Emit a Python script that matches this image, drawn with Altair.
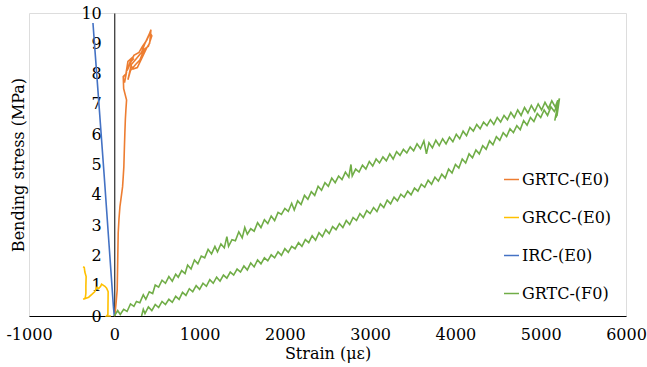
import altair as alt
import pandas as pd

# ---------------- data ----------------
series_names = ["GRTC-(E0)", "GRCC-(E0)", "IRC-(E0)", "GRTC-(F0)"]
series_colors = ["#ED7D31", "#FFC000", "#4472C4", "#70AD47"]

grtc_e0_strain = [0, 7, 20, 34, 40, 46, 55, 66, 80, 97, 105, 112, 118, 124, 130, 136, 144,
                  110, 105, 140, 120, 160, 200, 150, 230, 290, 330, 380, 420, 440, 400, 350,
                  300, 250, 190, 160, 200, 260, 320, 360, 410, 430, 415, 380, 330, 270, 220,
                  180, 230]
grtc_e0_stress = [0.0, 0.03, 0.4, 0.86, 1.8, 2.74, 3.2, 3.6, 3.9, 4.26, 4.6, 4.92, 5.5, 6.04,
                  6.5, 6.8, 7.13, 7.5, 7.9, 8.0, 7.7, 8.4, 8.5, 8.1, 8.6, 8.7, 8.9, 9.1, 9.35,
                  9.25, 8.9, 8.8, 8.45, 8.3, 8.1, 7.8, 8.3, 8.5, 8.7, 9.0, 9.3, 9.45, 9.0, 8.85,
                  8.55, 8.2, 8.15, 8.35, 8.5]

grcc_e0_strain = [-40, -90, -75, -72, -90, -110, -149, -160, -185, -200, -230, -260, -300,
                  -364, -340, -333, -333, -330, -345, -352, -365]
grcc_e0_stress = [0.0, 0.0, 0.05, 0.8, 0.92, 0.98, 1.05, 0.98, 0.9, 0.95, 0.8, 0.72, 0.62,
                  0.55, 0.6, 0.75, 1.0, 1.3, 1.45, 1.6, 1.63]

irc_e0_strain = [0, -10, -60, -120, -180, -230, -250]
irc_e0_stress = [0.0, 0.3, 2.3, 4.7, 7.0, 8.9, 9.67]

# GRTC-(F0): upper branch (0 -> 5200), top cluster, then lower branch back (5200 -> 320)
f0_up_strain = [
    0, 40, 70, 110, 150, 190, 230, 260, 300, 340, 370, 410, 450, 480, 520, 560, 600, 640,
    680, 720, 750, 790, 830, 860, 900, 940, 980, 1020, 1060, 1100, 1140, 1180, 1210, 1250,
    1290, 1320, 1340, 1380, 1420, 1460, 1500, 1530, 1560, 1600, 1640, 1680, 1720, 1760, 1800,
    1840, 1880, 1920, 1960, 2000, 2040, 2080, 2110, 2150, 2190, 2230, 2270, 2310, 2350, 2390,
    2430, 2470, 2510, 2550, 2590, 2630, 2670, 2710, 2750, 2775, 2790, 2830, 2870, 2910, 2950,
    2990, 3030, 3070, 3110, 3150, 3190, 3230, 3270, 3310, 3350, 3390, 3430, 3470, 3510, 3550,
    3590, 3630, 3660, 3690, 3730, 3770, 3810, 3850, 3890, 3930, 3970, 4010, 4050, 4090, 4130,
    4170, 4210, 4250, 4290, 4330, 4370, 4410, 4450, 4490, 4530, 4570, 4610, 4650, 4690, 4730,
    4770, 4810, 4850, 4890, 4930, 4970, 5010, 5050, 5090, 5130, 5170, 5200,
    5180, 5215, 5165, 5205, 5190, 5220]
f0_up_stress = [
    0.00, 0.18, 0.05, 0.22, 0.15, 0.40, 0.32, 0.48, 0.44, 0.70, 0.55, 0.80, 0.74, 1.02, 0.95,
    1.18, 1.08, 1.30, 1.15, 1.38, 1.28, 1.50, 1.40, 1.68, 1.55, 1.85, 1.72, 1.98, 1.92, 2.20,
    2.05, 2.30, 2.12, 2.38, 2.25, 2.62, 2.30, 2.52, 2.48, 2.78, 2.58, 2.92, 2.70, 2.88, 2.80,
    3.08, 2.92, 3.18, 3.05, 3.30, 3.15, 3.42, 3.35, 3.55, 3.45, 3.72, 3.50, 3.80, 3.68, 3.98,
    3.85, 4.10, 3.98, 4.28, 4.15, 4.40, 4.28, 4.55, 4.40, 4.62, 4.50, 4.75, 4.58, 5.00, 4.62,
    4.85, 4.75, 4.98, 4.85, 5.10, 4.95, 5.18, 5.05, 5.25, 5.12, 5.35, 5.18, 5.42, 5.30, 5.50,
    5.38, 5.58, 5.45, 5.68, 5.52, 5.78, 5.35, 5.72, 5.55, 5.80, 5.62, 5.85, 5.68, 5.90, 5.75,
    6.00, 5.85, 6.10, 5.95, 6.22, 6.10, 6.32, 6.18, 6.40, 6.28, 6.48, 6.32, 6.55, 6.40, 6.62,
    6.48, 6.72, 6.55, 6.80, 6.62, 6.88, 6.70, 6.95, 6.75, 7.00, 6.80, 7.05, 6.85, 7.10, 6.90,
    7.12,
    6.55, 7.15, 6.45, 7.05, 6.60, 7.18]
f0_down_strain = [
    5200, 5160, 5120, 5080, 5040, 5000, 4960, 4920, 4880, 4840, 4800, 4760, 4720, 4680, 4640,
    4600, 4560, 4520, 4480, 4440, 4400, 4360, 4320, 4280, 4240, 4200, 4160, 4120, 4080, 4040,
    4000, 3960, 3920, 3880, 3840, 3800, 3760, 3720, 3680, 3640, 3600, 3560, 3520, 3480, 3440,
    3400, 3360, 3320, 3280, 3240, 3200, 3160, 3120, 3080, 3040, 3000, 2960, 2920, 2880, 2840,
    2800, 2760, 2720, 2680, 2640, 2600, 2560, 2520, 2480, 2440, 2400, 2360, 2320, 2280, 2240,
    2200, 2160, 2120, 2080, 2040, 2000, 1960, 1920, 1880, 1840, 1800, 1760, 1720, 1680, 1640,
    1600, 1560, 1520, 1480, 1440, 1400, 1360, 1320, 1280, 1240, 1200, 1160, 1120, 1080, 1040,
    1000, 960, 920, 880, 840, 800, 760, 720, 680, 640, 600, 560, 520, 480, 440, 400, 360, 340,
    320]
f0_down_stress = [
    7.00, 6.75, 6.90, 6.62, 6.80, 6.55, 6.68, 6.42, 6.55, 6.30, 6.45, 6.15, 6.28, 6.05, 6.18,
    5.92, 6.05, 5.80, 5.92, 5.65, 5.78, 5.50, 5.62, 5.35, 5.48, 5.22, 5.35, 5.05, 5.18, 4.88,
    5.00, 4.72, 4.85, 4.55, 4.68, 4.45, 4.58, 4.35, 4.48, 4.25, 4.35, 4.12, 4.22, 4.00, 4.12,
    3.92, 4.02, 3.80, 3.92, 3.70, 3.82, 3.58, 3.70, 3.45, 3.58, 3.38, 3.48, 3.25, 3.38, 3.15,
    3.25, 3.02, 3.15, 2.92, 3.05, 2.85, 2.95, 2.72, 2.85, 2.62, 2.75, 2.50, 2.65, 2.42, 2.52,
    2.30, 2.42, 2.22, 2.30, 2.10, 2.22, 2.00, 2.12, 1.92, 2.02, 1.82, 1.92, 1.72, 1.85, 1.62,
    1.75, 1.52, 1.65, 1.45, 1.55, 1.35, 1.45, 1.25, 1.35, 1.15, 1.28, 1.08, 1.20, 0.98, 1.08,
    0.88, 1.00, 0.80, 0.90, 0.68, 0.78, 0.55, 0.65, 0.45, 0.55, 0.38, 0.48, 0.28, 0.38, 0.18,
    0.30, 0.08, 0.22, 0.00]

x_ticks = [-1000, 0, 1000, 2000, 3000, 4000, 5000, 6000]
y_ticks = [0, 1, 2, 3, 4, 5, 6, 7, 8, 9, 10]

# ---------------- build table ----------------
rows = []
for name, xs, ys in [
    ("GRTC-(E0)", grtc_e0_strain, grtc_e0_stress),
    ("GRCC-(E0)", grcc_e0_strain, grcc_e0_stress),
    ("IRC-(E0)", irc_e0_strain, irc_e0_stress),
    ("GRTC-(F0)", f0_up_strain + f0_down_strain, f0_up_stress + f0_down_stress),
]:
    for i, (sx, sy) in enumerate(zip(xs, ys)):
        rows.append({"series": name, "strain": sx, "stress": sy, "idx": i})
df = pd.DataFrame(rows)

FONT = "DejaVu Serif"
FS = 16
X0, X1 = -1000, 6000
W, H = 597, 303
y_axis_offset = -W * (0 - X0) / (X1 - X0)

chart = alt.Chart(df).mark_line(strokeWidth=1.6, clip=False).encode(
    x=alt.X("strain:Q",
            scale=alt.Scale(domain=[X0, X1], nice=False, zero=False),
            axis=alt.Axis(values=x_ticks, title="Strain (\u03bc\u03b5)", grid=False,
                          ticks=False, labelPadding=10, titlePadding=3,
                          labelExpr="'' + datum.value",
                          domainColor="#000000", domainWidth=1,
                          labelFont=FONT, labelFontSize=FS, labelColor="#000",
                          titleFont=FONT, titleFontSize=FS, titleFontWeight="normal",
                          titleColor="#000", labelFlush=False)),
    y=alt.Y("stress:Q",
            scale=alt.Scale(domain=[0, 10], nice=False),
            axis=alt.Axis(values=y_ticks, title="Bending stress (MPa)", grid=False,
                          ticks=False, labelPadding=13, offset=y_axis_offset,
                          labelExpr="'' + datum.value",
                          domainColor="#000000", domainWidth=1,
                          labelFont=FONT, labelFontSize=FS, labelColor="#000",
                          titleFont=FONT, titleFontSize=FS, titleFontWeight="normal",
                          titleColor="#000", titleX=y_axis_offset - 11, titleY=H / 2,
                          titleBaseline="middle", titleAngle=270, labelFlush=False)),
    color=alt.Color("series:N",
                    scale=alt.Scale(domain=series_names, range=series_colors),
                    legend=alt.Legend(title=None, orient="none", legendX=474, legendY=158,
                                      symbolType="stroke", symbolSize=225,
                                      symbolStrokeWidth=1.5, labelFont=FONT,
                                      labelFontSize=FS, labelColor="#000",
                                      rowPadding=21, labelOffset=2)),
    detail="series:N",
    order="idx:Q",
).properties(
    width=W, height=H,
    autosize=alt.AutoSizeParams(type="none"),
    padding={"left": 29, "top": 13, "right": 21, "bottom": 51},
).configure_view(
    stroke="#8c8c8c", strokeWidth=1
).configure(background="white", font=FONT)

chart.save("out.html", embed_options={"renderer": "svg", "actions": False})
